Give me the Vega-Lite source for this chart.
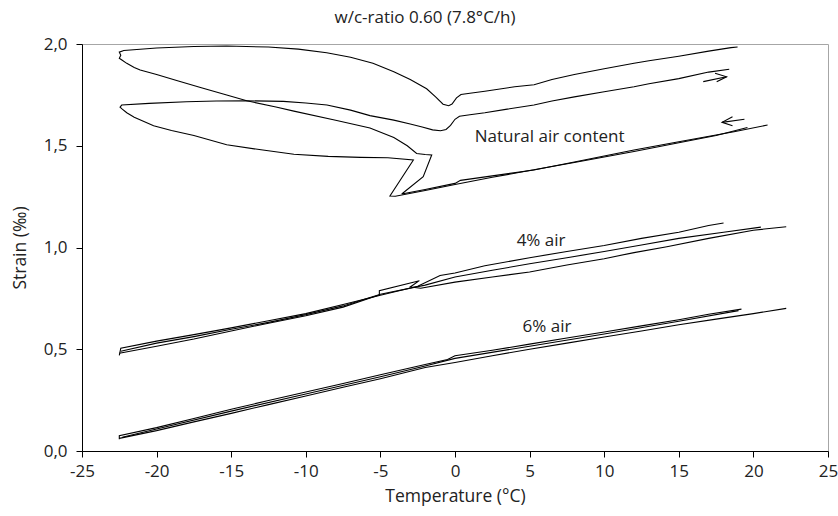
{
  "$schema": "https://vega.github.io/schema/vega-lite/v6.json",
  "width": 746,
  "height": 407,
  "autosize": {"type": "none"},
  "padding": {"left": 82, "top": 44, "right": 10, "bottom": 65},
  "background": "white",
  "title": {"text": "w/c-ratio 0.60 (7.8°C/h)", "font": "Open Sans", "fontSize": 17, "fontWeight": "normal", "color": "#222", "offset": 8, "dx": -30},
  "config": {
    "view": {"stroke": "#a6a6a6", "strokeWidth": 1},
    "axis": {"labelFont": "Open Sans", "titleFont": "Open Sans", "labelFontSize": 17, "titleFontSize": 17.5, "titleFontWeight": "normal", "labelColor": "#222", "titleColor": "#222", "domainColor": "#000", "tickColor": "#000", "grid": false}
  },
  "datasets": {
    "curves": [
      {"s":"n1","x":18.94,"y":1.985},{"s":"n1","x":18.5,"y":1.982},{"s":"n1","x":17,"y":1.965},{"s":"n1","x":15,"y":1.94},{"s":"n1","x":13,"y":1.918},{"s":"n1","x":12,"y":1.905},{"s":"n1","x":10,"y":1.878},{"s":"n1","x":8,"y":1.85},{"s":"n1","x":6.5,"y":1.826},{"s":"n1","x":5.3,"y":1.8},{"s":"n1","x":4,"y":1.79},{"s":"n1","x":2,"y":1.768},{"s":"n1","x":1,"y":1.758},{"s":"n1","x":0.4,"y":1.752},{"s":"n1","x":0.1,"y":1.735},{"s":"n1","x":-0.2,"y":1.705},{"s":"n1","x":-0.42,"y":1.697},{"s":"n1","x":-0.8,"y":1.704},{"s":"n1","x":-1.3,"y":1.74},{"s":"n1","x":-1.9,"y":1.78},{"s":"n1","x":-3,"y":1.825},{"s":"n1","x":-4.1,"y":1.864},{"s":"n1","x":-5.5,"y":1.905},{"s":"n1","x":-7,"y":1.935},{"s":"n1","x":-8.6,"y":1.957},{"s":"n1","x":-10.5,"y":1.975},{"s":"n1","x":-12.5,"y":1.985},{"s":"n1","x":-15.3,"y":1.99},{"s":"n1","x":-17.5,"y":1.988},{"s":"n1","x":-20,"y":1.98},{"s":"n1","x":-22.2,"y":1.968},{"s":"n1","x":-22.5,"y":1.96},{"s":"n1","x":-22.4,"y":1.945},{"s":"n1","x":-22.5,"y":1.93},{"s":"n1","x":-22.3,"y":1.92},{"s":"n1","x":-22,"y":1.905},{"s":"n1","x":-21.5,"y":1.885},{"s":"n1","x":-21.1,"y":1.872},{"s":"n1","x":-20,"y":1.85},{"s":"n1","x":-18.6,"y":1.819},{"s":"n1","x":-17,"y":1.785},{"s":"n1","x":-15.3,"y":1.749},{"s":"n1","x":-13.96,"y":1.721},{"s":"n1","x":-12,"y":1.69},{"s":"n1","x":-10.8,"y":1.67},{"s":"n1","x":-8,"y":1.625},{"s":"n1","x":-5.7,"y":1.587},{"s":"n1","x":-4.1,"y":1.54},{"s":"n1","x":-3.2,"y":1.5},{"s":"n1","x":-2.57,"y":1.462},{"s":"n1","x":-2,"y":1.457},{"s":"n1","x":-1.56,"y":1.455},{"s":"n1","x":-2.13,"y":1.348},{"s":"n1","x":-3.57,"y":1.263},{"s":"n1","x":-2,"y":1.285},{"s":"n1","x":0,"y":1.315},{"s":"n1","x":0.37,"y":1.33},{"s":"n1","x":2.5,"y":1.352},{"s":"n1","x":5.29,"y":1.381},{"s":"n1","x":8,"y":1.42},{"s":"n1","x":10,"y":1.45},{"s":"n1","x":12,"y":1.479},{"s":"n1","x":15,"y":1.52},{"s":"n1","x":18.7,"y":1.569},{"s":"n1","x":20.95,"y":1.602},
      {"s":"n2","x":18.38,"y":1.876},{"s":"n2","x":17,"y":1.862},{"s":"n2","x":15,"y":1.83},{"s":"n2","x":13,"y":1.805},{"s":"n2","x":12,"y":1.79},{"s":"n2","x":10,"y":1.765},{"s":"n2","x":8,"y":1.74},{"s":"n2","x":6.5,"y":1.72},{"s":"n2","x":5.29,"y":1.7},{"s":"n2","x":3.5,"y":1.68},{"s":"n2","x":2,"y":1.662},{"s":"n2","x":1,"y":1.652},{"s":"n2","x":0.3,"y":1.645},{"s":"n2","x":0,"y":1.63},{"s":"n2","x":-0.3,"y":1.6},{"s":"n2","x":-0.6,"y":1.58},{"s":"n2","x":-0.97,"y":1.574},{"s":"n2","x":-1.5,"y":1.578},{"s":"n2","x":-2.2,"y":1.592},{"s":"n2","x":-3,"y":1.607},{"s":"n2","x":-4.1,"y":1.626},{"s":"n2","x":-5.7,"y":1.648},{"s":"n2","x":-7,"y":1.675},{"s":"n2","x":-8.58,"y":1.7},{"s":"n2","x":-10,"y":1.71},{"s":"n2","x":-11.5,"y":1.718},{"s":"n2","x":-13.95,"y":1.721},{"s":"n2","x":-16,"y":1.72},{"s":"n2","x":-18,"y":1.716},{"s":"n2","x":-20.5,"y":1.708},{"s":"n2","x":-22.34,"y":1.7},{"s":"n2","x":-22.45,"y":1.69},{"s":"n2","x":-22.3,"y":1.68},{"s":"n2","x":-22,"y":1.662},{"s":"n2","x":-21.5,"y":1.64},{"s":"n2","x":-20.2,"y":1.598},{"s":"n2","x":-19,"y":1.575},{"s":"n2","x":-17.5,"y":1.55},{"s":"n2","x":-15.3,"y":1.505},{"s":"n2","x":-13,"y":1.48},{"s":"n2","x":-10.8,"y":1.458},{"s":"n2","x":-8.5,"y":1.448},{"s":"n2","x":-6.34,"y":1.443},{"s":"n2","x":-4.5,"y":1.441},{"s":"n2","x":-2.79,"y":1.43},{"s":"n2","x":-4.36,"y":1.253},{"s":"n2","x":-4,"y":1.252},{"s":"n2","x":-2,"y":1.28},{"s":"n2","x":0,"y":1.31},{"s":"n2","x":2.5,"y":1.345},{"s":"n2","x":5,"y":1.378},{"s":"n2","x":8,"y":1.418},{"s":"n2","x":12,"y":1.472},{"s":"n2","x":15,"y":1.515},{"s":"n2","x":17.5,"y":1.55},{"s":"n2","x":19.6,"y":1.59},
      {"s":"a1","x":16.64,"y":1.815},{"s":"a1","x":18.2,"y":1.839},
      {"s":"a1h","x":17.43,"y":1.856},{"s":"a1h","x":18.2,"y":1.839},{"s":"a1h","x":17.54,"y":1.815},
      {"s":"a2","x":17.9,"y":1.615},{"s":"a2","x":19.4,"y":1.63},
      {"s":"a2h","x":18.6,"y":1.642},{"s":"a2h","x":17.9,"y":1.615},{"s":"a2h","x":18.6,"y":1.598},
      {"s":"f1","x":18,"y":1.12},{"s":"f1","x":17,"y":1.108},{"s":"f1","x":15,"y":1.075},{"s":"f1","x":12.5,"y":1.045},{"s":"f1","x":10,"y":1.01},{"s":"f1","x":7.5,"y":0.98},{"s":"f1","x":5,"y":0.95},{"s":"f1","x":2,"y":0.91},{"s":"f1","x":0,"y":0.875},{"s":"f1","x":-1,"y":0.862},{"s":"f1","x":-2.5,"y":0.81},{"s":"f1","x":-5,"y":0.765},{"s":"f1","x":-7.5,"y":0.72},{"s":"f1","x":-10,"y":0.675},{"s":"f1","x":-12.5,"y":0.64},{"s":"f1","x":-15,"y":0.605},{"s":"f1","x":-17.5,"y":0.572},{"s":"f1","x":-20,"y":0.54},{"s":"f1","x":-22.4,"y":0.505},{"s":"f1","x":-22.5,"y":0.47},
      {"s":"f2","x":-22.5,"y":0.48},{"s":"f2","x":-20,"y":0.515},{"s":"f2","x":-17.5,"y":0.55},{"s":"f2","x":-15,"y":0.59},{"s":"f2","x":-12.5,"y":0.628},{"s":"f2","x":-10,"y":0.665},{"s":"f2","x":-7.5,"y":0.707},{"s":"f2","x":-5.07,"y":0.767},{"s":"f2","x":-5.07,"y":0.788},{"s":"f2","x":-2.39,"y":0.837},{"s":"f2","x":-3,"y":0.806},{"s":"f2","x":-2.3,"y":0.8},{"s":"f2","x":0,"y":0.83},{"s":"f2","x":2.5,"y":0.855},{"s":"f2","x":5,"y":0.88},{"s":"f2","x":7.5,"y":0.914},{"s":"f2","x":10,"y":0.945},{"s":"f2","x":12,"y":0.975},{"s":"f2","x":14.2,"y":1.004},{"s":"f2","x":17,"y":1.045},{"s":"f2","x":20,"y":1.085},{"s":"f2","x":22.2,"y":1.102},
      {"s":"f3","x":20.5,"y":1.1},{"s":"f3","x":18,"y":1.075},{"s":"f3","x":15,"y":1.045},{"s":"f3","x":12.5,"y":1.012},{"s":"f3","x":10,"y":0.98},{"s":"f3","x":7.5,"y":0.95},{"s":"f3","x":5,"y":0.92},{"s":"f3","x":2.5,"y":0.888},{"s":"f3","x":0,"y":0.855},{"s":"f3","x":-2,"y":0.815},{"s":"f3","x":-5,"y":0.77},{"s":"f3","x":-7.5,"y":0.713},{"s":"f3","x":-10,"y":0.67},{"s":"f3","x":-12.5,"y":0.632},{"s":"f3","x":-15,"y":0.598},{"s":"f3","x":-17.5,"y":0.562},{"s":"f3","x":-20,"y":0.53},{"s":"f3","x":-22.4,"y":0.49},
      {"s":"g1","x":19.2,"y":0.697},{"s":"g1","x":17,"y":0.672},{"s":"g1","x":15,"y":0.645},{"s":"g1","x":12.5,"y":0.615},{"s":"g1","x":10,"y":0.585},{"s":"g1","x":7.5,"y":0.555},{"s":"g1","x":5,"y":0.525},{"s":"g1","x":2.5,"y":0.495},{"s":"g1","x":0,"y":0.468},{"s":"g1","x":-0.5,"y":0.45},{"s":"g1","x":-2,"y":0.425},{"s":"g1","x":-5,"y":0.375},{"s":"g1","x":-7.5,"y":0.332},{"s":"g1","x":-10,"y":0.29},{"s":"g1","x":-12.5,"y":0.248},{"s":"g1","x":-15,"y":0.205},{"s":"g1","x":-17.5,"y":0.16},{"s":"g1","x":-20,"y":0.115},{"s":"g1","x":-22.5,"y":0.075},{"s":"g1","x":-22.5,"y":0.058},
      {"s":"g2","x":-22.5,"y":0.062},{"s":"g2","x":-20,"y":0.1},{"s":"g2","x":-17.5,"y":0.143},{"s":"g2","x":-15,"y":0.185},{"s":"g2","x":-12.5,"y":0.228},{"s":"g2","x":-10,"y":0.27},{"s":"g2","x":-7.5,"y":0.313},{"s":"g2","x":-5,"y":0.355},{"s":"g2","x":-2,"y":0.41},{"s":"g2","x":0,"y":0.435},{"s":"g2","x":2.5,"y":0.468},{"s":"g2","x":5,"y":0.5},{"s":"g2","x":7.5,"y":0.53},{"s":"g2","x":10,"y":0.56},{"s":"g2","x":12.5,"y":0.59},{"s":"g2","x":15,"y":0.62},{"s":"g2","x":17.5,"y":0.648},{"s":"g2","x":20,"y":0.675},{"s":"g2","x":22.2,"y":0.701},
      {"s":"g3","x":19,"y":0.69},{"s":"g3","x":15,"y":0.638},{"s":"g3","x":10,"y":0.575},{"s":"g3","x":5,"y":0.515},{"s":"g3","x":0,"y":0.455},{"s":"g3","x":-2,"y":0.418},{"s":"g3","x":-5,"y":0.365},{"s":"g3","x":-10,"y":0.28},{"s":"g3","x":-15,"y":0.196},{"s":"g3","x":-20,"y":0.108},{"s":"g3","x":-22.3,"y":0.068}
    ],
    "labels": [
      {"x": 6.34, "y": 1.543, "t": "Natural air content"},
      {"x": 5.77, "y": 1.03, "t": "4% air"},
      {"x": 6.17, "y": 0.607, "t": "6% air"}
    ]
  },
  "layer": [
    {
      "data": {"name": "curves"},
      "mark": {"type": "line", "color": "#000", "strokeWidth": 1.1, "clip": true},
      "encoding": {
        "x": {"field": "x", "type": "quantitative", "scale": {"domain": [-25, 25], "nice": false, "zero": false},
              "axis": {"title": "Temperature (°C)", "values": [-25,-20,-15,-10,-5,0,5,10,15,20,25], "labelExpr": "'' + datum.value", "tickSize": 6, "labelPadding": 6, "titlePadding": 8, "labelFlush": false}},
        "y": {"field": "y", "type": "quantitative", "scale": {"domain": [0, 2], "nice": false},
              "axis": {"title": "Strain (‰)", "values": [0, 0.5, 1, 1.5, 2], "labelExpr": "replace(format(datum.value, '.1f'), '.', ',')", "tickSize": 6, "labelPadding": 9, "titlePadding": 14}},
        "detail": {"field": "s"},
        "order": {"value": null}
      }
    },
    {
      "data": {"name": "labels"},
      "mark": {"type": "text", "font": "Open Sans", "fontSize": 17, "color": "#222", "align": "center", "baseline": "middle"},
      "encoding": {
        "x": {"field": "x", "type": "quantitative"},
        "y": {"field": "y", "type": "quantitative"},
        "text": {"field": "t"}
      }
    }
  ]
}
